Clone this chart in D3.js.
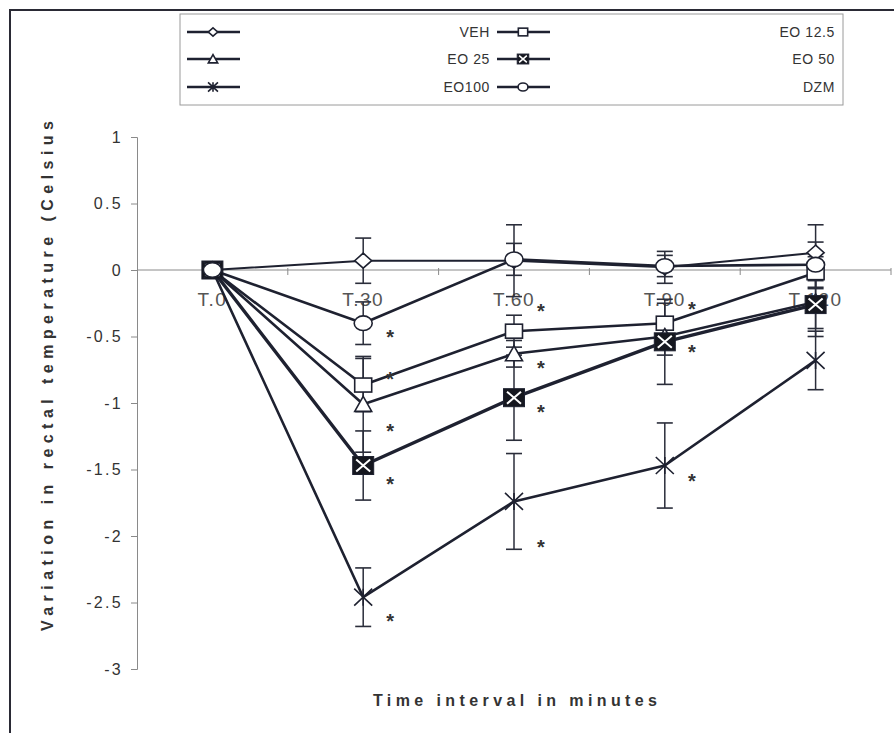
<!DOCTYPE html>
<html><head><meta charset="utf-8">
<script src="https://cdn.jsdelivr.net/npm/d3@7"></script>
<style>
html,body{margin:0;padding:0;background:#fff;}
svg{display:block;font-family:"Liberation Sans",Arial,sans-serif;}
</style></head>
<body>
<svg id="chart" width="894" height="733"></svg>
<script>
// ---------------- data ----------------
const categories = ["T.0", "T.30", "T.60", "T.90", "T.120"];
const seriesNames = ["VEH", "EO 12.5", "EO 25", "EO 50", "EO100", "DZM"];
const markerTypes = ["diamond", "square", "triangle", "xsquare", "star", "circle"];
const vehMean   = [0,  0.07,  0.07,  0.02,  0.13];
const vehSE     = [0,  0.17,  0.27,  0.12,  0.21];
const eo125Mean = [0, -0.865, -0.46, -0.40, -0.02];
const eo125SE   = [0,  0.20,  0.12,  0.15,  0.12];
const eo25Mean  = [0, -1.01, -0.63, -0.50, -0.24];
const eo25SE    = [0,  0.36,  0.10,  0.14,  0.20];
const eo50Mean  = [0, -1.47, -0.96, -0.54, -0.26];
const eo50SE    = [0,  0.26,  0.32,  0.32,  0.24];
const eo100Mean = [0, -2.46, -1.74, -1.47, -0.68];
const eo100SE   = [0,  0.22,  0.36,  0.32,  0.22];
const dzmMean   = [0, -0.40,  0.08,  0.03,  0.04];
const dzmSE     = [0,  0.16,  0.12,  0.08,  0.17];
const yTicks = [1, 0.5, 0, -0.5, -1, -1.5, -2, -2.5, -3];
// significance asterisks: category and value level
const starCategory = ["T.30","T.30","T.30","T.30","T.30","T.60","T.60","T.60","T.60","T.90","T.90","T.90"];
const starLevel    = [-0.47, -0.79, -1.18, -1.58, -2.61, -0.28, -0.71, -1.04, -2.05, -0.26, -0.59, -1.56];
const yTitle = "Variation in rectal temperature (Celsius";
const xTitle = "Time interval in minutes";

const means = [vehMean, eo125Mean, eo25Mean, eo50Mean, eo100Mean, dzmMean];
const ses = [vehSE, eo125SE, eo25SE, eo50SE, eo100SE, dzmSE];
const series = seriesNames.map((name, i) => ({
  name, marker: markerTypes[i],
  pts: categories.map((c, j) => ({cat: c, v: means[i][j], se: ses[i][j]}))
}));

// ---------------- layout ----------------
const svg = d3.select("#chart");
const ink = "#1e2130";
const plotL = 137, plotR = 891, plotT = 137, plotB = 669;
const x = d3.scaleBand().domain(categories).range([plotL, plotR]).padding(0);
const cx = c => x(c) + x.bandwidth() / 2;
const y = d3.scaleLinear().domain([-3, 1]).range([plotB, plotT]);

// outer frame
svg.append("path").attr("d", `M10,740 L10,10 L900,10`)
  .attr("fill", "none").attr("stroke", "#2a2a35").attr("stroke-width", 2);

// y axis
const yAxis = svg.append("g").attr("transform", `translate(${plotL},0)`)
  .call(d3.axisLeft(y).tickValues(yTicks).tickSize(6).tickPadding(8)
        .tickFormat(d => String(d)));
yAxis.select(".domain").attr("stroke", "#8a8a8a");
yAxis.selectAll(".tick line").attr("stroke", "#8a8a8a");
yAxis.selectAll(".tick text").attr("font-size", 16).attr("fill", "#333")
  .attr("letter-spacing", 2.3).attr("font-family", "Liberation Sans, Arial, sans-serif");

// x axis at zero
const xg = svg.append("g").attr("transform", `translate(0,${y(0)})`);
xg.append("line").attr("x1", plotL).attr("x2", plotR).attr("stroke", "#8a8a8a").attr("stroke-width", 1);
xg.selectAll("line.tk").data(categories).join("line").attr("class", "tk")
  .attr("x1", c => x(c) + x.bandwidth()).attr("x2", c => x(c) + x.bandwidth())
  .attr("y1", -2).attr("y2", 5).attr("stroke", "#8a8a8a");
xg.selectAll("text").data(categories).join("text")
  .attr("x", c => cx(c)).attr("y", 36).attr("text-anchor", "middle")
  .attr("font-size", 19).attr("letter-spacing", 1.5).attr("fill", "#555").text(c => c);

// axis titles
svg.append("text").attr("transform", `translate(53,376) rotate(-90)`)
  .attr("text-anchor", "middle").attr("font-weight", "bold").attr("font-size", 16)
  .attr("fill", "#333").attr("textLength", 510).attr("lengthAdjust", "spacing").text(yTitle);
svg.append("text").attr("x", 515).attr("y", 706).attr("text-anchor", "middle")
  .attr("font-weight", "bold").attr("font-size", 16).attr("fill", "#333")
  .attr("textLength", 284).attr("lengthAdjust", "spacing").text(xTitle);

// ---------------- markers ----------------
function drawMarker(g, type, s) {
  const sw = 1.6;
  if (type === "diamond") {
    g.append("path").attr("d", `M0,${-7.5*s} L${8.5*s},0 L0,${7.5*s} L${-8.5*s},0 Z`)
      .attr("fill", "#fff").attr("stroke", ink).attr("stroke-width", sw);
  } else if (type === "circle") {
    g.append("ellipse").attr("rx", 9*s).attr("ry", 7.3*s)
      .attr("fill", "#fff").attr("stroke", ink).attr("stroke-width", sw);
  } else if (type === "square") {
    g.append("rect").attr("x", -8.5*s).attr("y", -7*s).attr("width", 17*s).attr("height", 14*s)
      .attr("fill", "#fff").attr("stroke", ink).attr("stroke-width", sw);
  } else if (type === "triangle") {
    g.append("path").attr("d", `M0,${-8*s} L${8.5*s},${7*s} L${-8.5*s},${7*s} Z`)
      .attr("fill", "#fff").attr("stroke", ink).attr("stroke-width", sw);
  } else if (type === "xsquare") {
    g.append("rect").attr("x", -10.5*s).attr("y", -9*s).attr("width", 21*s).attr("height", 18*s)
      .attr("fill", "#15171f").attr("stroke", ink).attr("stroke-width", 1);
    g.append("path").attr("d", `M${-7*s},${-6*s} L${7*s},${6*s} M${-7*s},${6*s} L${7*s},${-6*s}`)
      .attr("stroke", "#fff").attr("stroke-width", 2*Math.max(s, 0.8));
  } else if (type === "star") {
    g.append("path").attr("d", `M${-9*s},${-8.5*s} L${9*s},${8.5*s} M${-9*s},${8.5*s} L${9*s},${-8.5*s} M0,${-8.5*s} L0,${8.5*s}`)
      .attr("stroke", ink).attr("stroke-width", 1.6);
  }
}

// ---------------- error bars ----------------
const eg = svg.append("g");
series.forEach(s => {
  s.pts.filter(p => p.se > 0).forEach(p => {
    const px = cx(p.cat), y1 = y(p.v + p.se), y2 = y(p.v - p.se);
    eg.append("line").attr("x1", px).attr("x2", px).attr("y1", y1).attr("y2", y2)
      .attr("stroke", "#2a2d3a").attr("stroke-width", 1.5);
    [y1, y2].forEach(yy => eg.append("line").attr("x1", px - 8).attr("x2", px + 8)
      .attr("y1", yy).attr("y2", yy).attr("stroke", "#2a2d3a").attr("stroke-width", 1.6));
  });
});

// ---------------- lines ----------------
const lineGen = d3.line().x(p => cx(p.cat)).y(p => y(p.v));
const lineWidth = {"VEH": 2, "EO 50": 3.4};
series.forEach(s => {
  svg.append("path").attr("d", lineGen(s.pts)).attr("fill", "none")
    .attr("stroke", ink).attr("stroke-width", lineWidth[s.name] || 2.6)
    .attr("stroke-linejoin", "round");
});
// markers
series.forEach(s => {
  s.pts.forEach(p => {
    const g = svg.append("g").attr("transform", `translate(${cx(p.cat)},${y(p.v)})`);
    drawMarker(g, s.marker, 1);
  });
});

// ---------------- asterisks ----------------
svg.selectAll("text.star").data(starCategory.map((c, i) => ({c, v: starLevel[i]})))
  .join("text").attr("class", "star")
  .attr("x", d => cx(d.c) + 27).attr("y", d => y(d.v) + 11)
  .attr("text-anchor", "middle").attr("font-size", 20).attr("font-weight", "bold")
  .attr("fill", "#333").text("*");

// ---------------- legend ----------------
const lg = svg.append("g");
lg.append("rect").attr("x", 180).attr("y", 14).attr("width", 663).attr("height", 91)
  .attr("fill", "#fff").attr("stroke", "#9a9a9a").attr("stroke-width", 1);
const colSample = [187, 497], colTextEnd = [490, 835];
const rowY = [32, 59, 87];
series.forEach((s, i) => {
  const col = i % 2, row = Math.floor(i / 2);
  const sx = colSample[col], ry = rowY[row];
  lg.append("line").attr("x1", sx).attr("x2", sx + 53).attr("y1", ry).attr("y2", ry)
    .attr("stroke", ink).attr("stroke-width", 2.6);
  const g = lg.append("g").attr("transform", `translate(${sx + 26},${ry})`);
  drawMarker(g, s.marker, 0.55);
  lg.append("text").attr("x", colTextEnd[col]).attr("y", ry + 5).attr("text-anchor", "end")
    .attr("font-size", 14).attr("letter-spacing", 0.6).attr("fill", "#333").text(s.name);
});
</script>
</body></html>
